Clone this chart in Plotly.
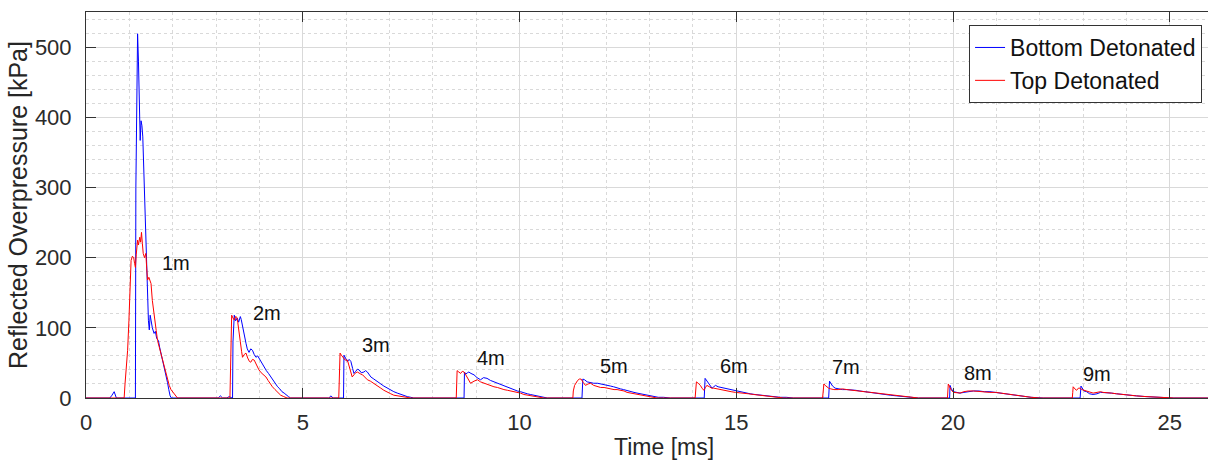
import plotly.graph_objects as go

# Reflected overpressure histories at 1-9 m stand-off, two detonation points
bottom_time = [
    0.0, 0.55, 0.60, 0.65, 0.70, 1.12, 1.14,
    1.15, 1.17, 1.19, 1.21, 1.23, 1.25, 1.27, 1.29, 1.31, 1.33, 1.36, 1.38, 1.40, 1.42, 1.44, 1.46, 1.48, 1.50,
    1.53, 1.57, 1.60, 1.63, 1.67, 1.70, 1.73, 1.77, 1.80, 1.84, 1.88, 1.91, 1.94, 1.97,
    3.05, 3.10, 3.15, 3.25, 3.30, 3.37,
    3.38, 3.39, 3.41, 3.42, 3.45, 3.49, 3.52, 3.56, 3.58, 3.61, 3.65, 3.69, 3.72, 3.76, 3.80, 3.84, 3.88, 3.92,
    3.96, 3.99, 4.04, 4.11, 4.16, 4.21, 4.26, 4.32, 4.37, 4.42, 4.47, 4.52, 4.57, 4.62, 4.67, 4.72,
    5.60, 5.65, 5.70, 5.93,
    5.94, 5.95, 5.99, 6.03, 6.07, 6.11, 6.15, 6.18, 6.22, 6.26, 6.30, 6.35, 6.41, 6.45, 6.49, 6.53, 6.57, 6.64,
    6.72, 6.80, 6.87, 6.95, 7.03, 7.10, 7.18, 7.26, 7.33, 7.41, 7.49, 7.56,
    8.71,
    8.72, 8.73, 8.76, 8.80, 8.83, 8.88, 8.95, 9.02, 9.10, 9.17, 9.25, 9.33, 9.41, 9.49, 9.57, 9.64, 9.72, 9.80,
    9.87, 9.95, 10.02, 10.10, 10.18, 10.25, 10.33, 10.41, 10.50, 10.64,
    11.43,
    11.44, 11.46, 11.50, 11.56, 11.63, 11.71, 11.80, 11.88, 11.94, 12.02, 12.10, 12.17, 12.25, 12.33, 12.40,
    12.48, 12.56, 12.64, 12.71, 12.79, 12.87, 12.94, 13.02, 13.09, 13.20, 13.32, 13.48,
    14.25,
    14.26, 14.28, 14.31, 14.36, 14.40, 14.44, 14.48, 14.52, 14.58, 14.65, 14.71, 14.80, 14.90, 15.00, 15.09,
    15.20, 15.32, 15.43, 15.55, 15.70, 15.85, 16.01, 16.15, 16.32,
    17.12,
    17.13, 17.15, 17.18, 17.22, 17.28, 17.35, 17.45, 17.55, 17.65, 17.75, 17.85, 17.95, 18.10, 18.25, 18.40,
    18.55, 18.70, 18.85, 19.00, 19.20,
    19.91,
    19.92, 19.93, 19.96, 20.01, 20.08, 20.16, 20.25, 20.35, 20.47, 20.60, 20.72, 20.85, 20.98, 21.10, 21.24,
    21.37, 21.50, 21.62, 21.80, 22.08,
    22.92,
    22.93, 22.95, 22.98, 23.02, 23.08, 23.15, 23.23, 23.32, 23.40, 23.46, 23.55, 23.65, 23.77, 23.90, 24.05,
    24.23, 24.45, 24.69, 24.90, 25.08, 25.88,
]
bottom_kpa = [
    0, 0, 4, 9, 0, 0, 0,
    300, 470, 519, 480, 420, 367, 395, 388, 372, 330, 280, 235, 190, 139, 110, 97, 118, 111,
    100, 92, 95, 85, 82, 72, 64, 55, 45, 35, 22, 12, 3, 0,
    0, 3, 0, 0, 2, 0,
    0, 80, 112, 118, 110, 114, 108, 116, 112, 101, 88, 78, 70, 65, 70, 68, 62, 58,
    60, 57, 50, 44, 39, 35, 30, 25, 20, 16, 13, 9, 7, 4, 2, 0,
    0, 3, 0, 0,
    0, 61, 56, 52, 55, 52, 42, 35, 38, 41, 40, 36, 37, 39, 37, 33, 30, 27,
    23, 20, 17, 14, 11, 9, 7, 5, 4, 2, 1, 0,
    0,
    0, 37, 34, 36, 37, 35, 33, 29, 26, 29, 28, 25, 23, 21, 19, 18, 16, 14,
    12, 10, 9, 7, 6, 5, 4, 2, 1, 0,
    0,
    0, 27, 26, 23, 22, 21, 21, 20, 20, 18, 17, 16, 15, 13, 12,
    11, 10, 8, 7, 6, 5, 4, 3, 2, 1, 1, 0,
    0,
    0, 28, 25, 21, 17, 14, 16, 18, 16, 15, 14, 13, 12, 10, 9,
    8, 6, 5, 4, 3, 2, 1, 1, 0,
    0,
    0, 24, 20, 17, 14, 13, 12, 12, 12, 11, 10, 9, 8, 6, 5,
    4, 3, 2, 1, 0,
    0,
    0, 18, 13, 9, 8, 7, 8, 9, 10, 10, 9, 9, 8, 7, 6,
    4, 3, 2, 1, 0,
    0,
    0, 17, 13, 10, 9, 6, 5, 6, 8, 8, 7, 7, 6, 5, 4,
    3, 2, 1, 0.5, 0, 0,
]

top_time = [
    0.0, 0.85,
    0.88, 0.90, 0.93, 0.96, 0.99, 1.01, 1.04, 1.07, 1.10, 1.12, 1.14, 1.16, 1.19, 1.21, 1.24, 1.26, 1.28, 1.30,
    1.32, 1.35, 1.38, 1.40, 1.42, 1.45, 1.48, 1.50, 1.53, 1.55, 1.57, 1.60, 1.62, 1.65, 1.70, 1.74, 1.77, 1.81,
    1.85, 1.88, 1.92, 1.96, 2.00, 2.03, 2.07, 2.11,
    3.32,
    3.33, 3.35, 3.36, 3.39, 3.42, 3.45, 3.48, 3.50, 3.53, 3.56, 3.59, 3.61, 3.65, 3.69, 3.73, 3.77, 3.80, 3.84,
    3.88, 3.92, 3.96, 3.99, 4.04, 4.10, 4.15, 4.20, 4.25, 4.30, 4.36, 4.42, 4.49, 4.56, 4.64,
    5.83,
    5.84, 5.86, 5.89, 5.92, 5.94, 5.98, 6.03, 6.07, 6.11, 6.14, 6.18, 6.22, 6.26, 6.30, 6.34, 6.38, 6.44, 6.49,
    6.56, 6.64, 6.72, 6.80, 6.87, 6.95, 7.03, 7.10, 7.18, 7.26, 7.33, 7.49,
    8.54,
    8.55, 8.56, 8.60, 8.64, 8.68, 8.72, 8.76, 8.79, 8.83, 8.87, 8.95, 9.03, 9.10, 9.18, 9.26, 9.33, 9.41, 9.49,
    9.57, 9.64, 9.72, 9.80, 9.87, 9.95, 10.02, 10.10, 10.18, 10.25, 10.33, 10.45, 10.56,
    11.23,
    11.24, 11.27, 11.30, 11.34, 11.38, 11.42, 11.47, 11.52, 11.58, 11.64, 11.71, 11.79, 11.87, 11.95, 12.02,
    12.10, 12.18, 12.25, 12.33, 12.41, 12.48, 12.56, 12.63, 12.71, 12.79, 12.87, 12.94, 13.02, 13.17,
    14.05,
    14.06, 14.08, 14.12, 14.17, 14.21, 14.25, 14.29, 14.32, 14.38, 14.43, 14.48, 14.55, 14.63, 14.70, 14.78,
    14.88, 14.98, 15.08, 15.17, 15.28, 15.40, 15.52, 15.63, 15.75, 15.90, 16.09,
    16.99,
    17.00, 17.02, 17.05, 17.09, 17.13, 17.18, 17.25, 17.35, 17.45, 17.55, 17.65, 17.75, 17.85, 17.95, 18.10,
    18.25, 18.40, 18.55, 18.70, 18.85, 19.00, 19.20,
    19.87,
    19.88, 19.89, 19.92, 19.96, 20.01, 20.08, 20.16, 20.25, 20.35, 20.47, 20.60, 20.72, 20.85, 20.98, 21.10,
    21.24, 21.37, 21.50, 21.62, 21.80, 22.00,
    22.75,
    22.76, 22.77, 22.81, 22.85, 22.89, 22.93, 22.97, 23.02, 23.08, 23.15, 23.23, 23.32, 23.40, 23.46, 23.55,
    23.65, 23.77, 23.90, 24.05, 24.23, 24.45, 24.69, 24.90, 25.10, 25.88,
]
top_kpa = [
    0, 0,
    0, 20, 45, 68, 110, 160, 196, 202, 200, 192, 186, 205, 225, 218, 229, 222, 236, 220,
    206, 200, 206, 185, 168, 172, 165, 163, 139, 128, 115, 104, 96, 82, 70, 60, 54, 44,
    33, 26, 18, 12, 9, 7, 3, 0,
    0,
    40, 105, 118, 114, 111, 116, 115, 108, 97, 80, 66, 58, 62, 64, 57, 52, 51, 55,
    54, 48, 44, 40, 36, 32, 30, 25, 20, 16, 12, 8, 4, 2, 0,
    0,
    30, 64, 61, 58, 56, 54, 54, 45, 36, 30, 33, 36, 37, 35, 34, 33, 29, 26,
    24, 21, 18, 14, 11, 9, 6, 4, 3, 2, 1, 0,
    0,
    20, 39, 37, 35, 38, 37, 33, 30, 25, 21, 24, 26, 23, 21, 19, 18, 16, 15,
    13, 12, 11, 10, 9, 8, 7, 5, 4, 3, 2, 1, 0,
    0,
    10, 18, 22, 25, 27, 27, 22, 18, 20, 21, 18, 16, 15, 15, 14,
    13, 12, 12, 11, 10, 8, 7, 6, 5, 4, 3, 2, 1, 0,
    0,
    12, 23, 21, 18, 14, 11, 15, 18, 16, 14, 14, 13, 12, 11, 10,
    9, 8, 7, 7, 6, 5, 4, 3, 2, 1, 0,
    0,
    12, 20, 18, 16, 14, 13, 12, 12, 13, 12, 11, 11, 10, 9, 8,
    7, 5, 4, 3, 2, 1, 0,
    0,
    10, 20, 16, 11, 8, 8, 7, 9, 10, 10, 9, 9, 8, 8, 7,
    5, 4, 3, 2, 1, 0,
    0,
    8, 16, 13, 11, 14, 14, 12, 11, 9, 8, 7, 8, 9, 8, 8,
    7, 6, 5, 4, 3, 2, 1, 0.5, 0, 0,
]

# Stand-off distance labels and where they sit
distance_labels = ["1m", "2m", "3m", "4m", "5m", "6m", "7m", "8m", "9m"]
label_time = [2.07, 4.17, 6.68, 9.35, 12.19, 14.95, 17.53, 20.58, 23.32]
label_kpa = [193, 121, 75, 57, 46, 46, 44, 36, 34]

x_ticks = [0, 5, 10, 15, 20, 25]
y_ticks = [0, 100, 200, 300, 400, 500]

FONT = "Liberation Sans, Arial, Helvetica, sans-serif"

fig = go.Figure()
fig.add_trace(go.Scatter(
    x=bottom_time, y=bottom_kpa, mode="lines", name="Bottom Detonated",
    line=dict(color="#0000ff", width=1),
))
fig.add_trace(go.Scatter(
    x=top_time, y=top_kpa, mode="lines", name="Top Detonated",
    line=dict(color="#ff0000", width=1),
))

for txt, tx, ty in zip(distance_labels, label_time, label_kpa):
    fig.add_annotation(
        x=tx, y=ty, text=txt, showarrow=False,
        font=dict(family=FONT, size=20, color="#111111"),
    )

# x-axis title, placed low near the lower edge of the figure
fig.add_annotation(
    xref="paper", yref="paper", x=0.5155, y=-0.126,
    xanchor="center", yanchor="middle", showarrow=False,
    text="Time [ms]", font=dict(family=FONT, size=23, color="#262626"),
)

fig.update_layout(
    width=1208, height=461,
    margin=dict(l=86, r=0, t=12, b=63),
    paper_bgcolor="white", plot_bgcolor="white",
    font=dict(family=FONT, color="#262626"),
    showlegend=True,
    legend=dict(
        x=0.9947, y=0.9663, xanchor="right", yanchor="top",
        bgcolor="white", bordercolor="#333333", borderwidth=1,
        font=dict(family=FONT, size=23, color="#111111"),
        tracegroupgap=0, itemwidth=30,
    ),
)

fig.update_xaxes(
    range=[0, 25.88], tickvals=x_ticks, ticktext=[str(v) for v in x_ticks],
    automargin=False,
    showline=True, linecolor="#333333", linewidth=1, mirror="ticks",
    ticks="inside", ticklen=10, tickcolor="#333333",
    showgrid=True, gridcolor="#d9d9d9", gridwidth=1,
    minor=dict(dtick=1, tick0=0, showgrid=True, gridcolor="#d9d9d9", griddash="dot", gridwidth=1),
    zeroline=False,
    tickfont=dict(family=FONT, size=22, color="#2b2b2b"),
    ticklabelstandoff=5,
)
fig.update_yaxes(
    range=[0, 550], tickvals=y_ticks, ticktext=[str(v) for v in y_ticks],
    automargin=False,
    showline=True, linecolor="#333333", linewidth=1, mirror=False,
    ticks="inside", ticklen=10, tickcolor="#333333",
    showgrid=True, gridcolor="#d9d9d9", gridwidth=1,
    minor=dict(dtick=20, tick0=0, showgrid=True, gridcolor="#d9d9d9", griddash="dot", gridwidth=1),
    zeroline=False,
    tickfont=dict(family=FONT, size=22, color="#2b2b2b"),
    ticklabelstandoff=9,
    title=dict(text="Reflected Overpressure [kPa]", font=dict(family=FONT, size=25, color="#262626"), standoff=0),
)

fig.write_html("out.html")
